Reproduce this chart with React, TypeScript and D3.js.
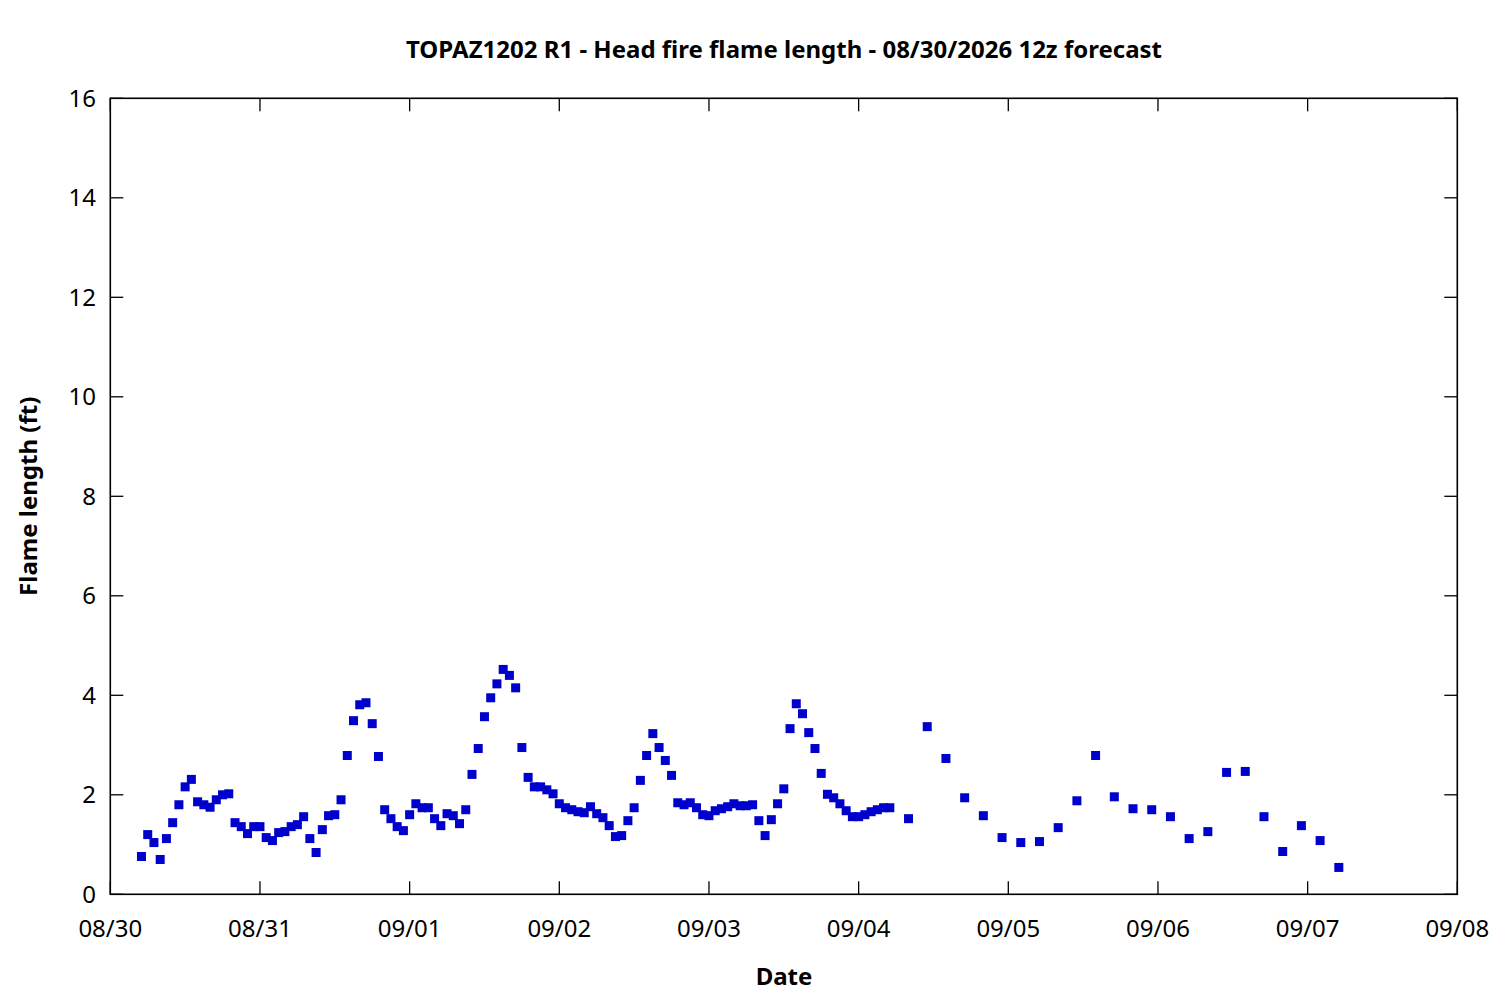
import * as d3 from 'd3'
import { useEffect, useRef } from 'react'

// hourly forecast values (ft), first at 08/30 05z
const hourlyStart = '2026-08-30T05:00:00Z'
const hourlyFlame = [
  0.76, 1.20, 1.04, 0.70, 1.12, 1.44, 1.80, 2.16, 2.31, 1.86,
  1.80, 1.75, 1.90, 2.00, 2.02, 1.44, 1.36, 1.22, 1.36, 1.36,
  1.14, 1.08, 1.24, 1.26, 1.36, 1.40, 1.56, 1.12, 0.84, 1.30,
  1.58, 1.60, 1.90, 2.79, 3.49, 3.81, 3.85, 3.43, 2.77, 1.70,
  1.52, 1.36, 1.28, 1.60, 1.82, 1.74, 1.74, 1.52, 1.38, 1.62,
  1.58, 1.42, 1.70, 2.41, 2.93, 3.57, 3.95, 4.23, 4.52, 4.40,
  4.15, 2.95, 2.35, 2.16, 2.16, 2.10, 2.02, 1.82, 1.74, 1.70,
  1.66, 1.64, 1.76, 1.62, 1.54, 1.38, 1.16, 1.18, 1.48, 1.74,
  2.29, 2.79, 3.23, 2.95, 2.69, 2.39, 1.84, 1.80, 1.84, 1.74,
  1.60, 1.58, 1.68, 1.72, 1.76, 1.82, 1.78, 1.78, 1.80, 1.48,
  1.18, 1.50, 1.82, 2.12, 3.33, 3.83, 3.63, 3.25, 2.93, 2.43,
  2.01, 1.94, 1.82, 1.68, 1.56, 1.56, 1.60, 1.66, 1.70, 1.74,
  1.74,
]

// 3-hourly values (ft), first at 09/04 08z
const threeHourlyStart = '2026-09-04T08:00:00Z'
const threeHourlyFlame = [
  1.52, 3.37, 2.73, 1.94, 1.58, 1.14, 1.04, 1.06, 1.34, 1.88,
  2.79, 1.96, 1.72, 1.70, 1.56, 1.12, 1.26, 2.45, 2.47, 1.56,
  0.86, 1.38, 1.08, 0.54,
]

const xDomain = ['2026-08-30T00:00:00Z', '2026-09-08T00:00:00Z']
const yTicks = [0, 2, 4, 6, 8, 10, 12, 14, 16]

const titleText = 'TOPAZ1202 R1 - Head fire flame length - 08/30/2026 12z forecast'
const xLabel = 'Date'
const yLabel = 'Flame length (ft)'

const W = 1500
const H = 1000
const left = 110.3
const right = 1457.3
const top = 98.3
const bottom = 894.3
const font = '"Noto Sans", "Open Sans", sans-serif'
const fontSize = 24

export default function App() {
  const svgRef = useRef(null) as any

  useEffect(() => {
    const svg = d3.select(svgRef.current)
    svg.selectAll('*').remove()

    const points: { t: Date; v: number }[] = []
    hourlyFlame.forEach((v, i) => {
      points.push({ t: d3.utcHour.offset(new Date(hourlyStart), i), v })
    })
    threeHourlyFlame.forEach((v, i) => {
      points.push({ t: d3.utcHour.offset(new Date(threeHourlyStart), i * 3), v })
    })

    const x = d3.scaleUtc()
      .domain(xDomain.map(d => new Date(d)))
      .range([left, right])
    const y = d3.scaleLinear()
      .domain([0, 16])
      .range([bottom, top])

    const days = d3.utcDay.range(x.domain()[0], d3.utcDay.offset(x.domain()[1], 1))
    const fmt = d3.utcFormat('%m/%d')
    const tickLen = 13

    svg.append('rect')
      .attr('x', 0).attr('y', 0).attr('width', W).attr('height', H)
      .attr('fill', '#fff')

    // ticks on all four sides, pointing inwards
    const g = svg.append('g').attr('stroke', '#000').attr('stroke-width', 1.3)
    days.forEach(d => {
      const px = x(d)
      g.append('line').attr('x1', px).attr('x2', px).attr('y1', bottom).attr('y2', bottom - tickLen)
      g.append('line').attr('x1', px).attr('x2', px).attr('y1', top).attr('y2', top + tickLen)
    })
    yTicks.forEach(v => {
      const py = y(v)
      g.append('line').attr('x1', left).attr('x2', left + tickLen).attr('y1', py).attr('y2', py)
      g.append('line').attr('x1', right).attr('x2', right - tickLen).attr('y1', py).attr('y2', py)
    })
    svg.append('rect')
      .attr('x', left).attr('y', top)
      .attr('width', right - left).attr('height', bottom - top)
      .attr('fill', 'none').attr('stroke', '#000').attr('stroke-width', 1.6)

    svg.append('g').selectAll('text')
      .data(days)
      .join('text')
      .attr('x', d => x(d))
      .attr('y', 937)
      .attr('text-anchor', 'middle')
      .text(d => fmt(d))

    svg.append('g').selectAll('text')
      .data(yTicks)
      .join('text')
      .attr('x', 96)
      .attr('y', d => y(d) + 8.5)
      .attr('text-anchor', 'end')
      .text(d => d)

    svg.selectAll('text')
      .attr('font-family', font)
      .attr('font-size', fontSize)
      .attr('fill', '#000')

    svg.append('g').selectAll('rect')
      .data(points)
      .join('rect')
      .attr('x', d => x(d.t) - 4.5)
      .attr('y', d => y(d.v) - 4.5)
      .attr('width', 9)
      .attr('height', 9)
      .attr('fill', '#0000cc')

    svg.append('text')
      .attr('x', 784).attr('y', 58)
      .attr('text-anchor', 'middle')
      .attr('font-family', font).attr('font-size', fontSize).attr('font-weight', 'bold')
      .text(titleText)

    svg.append('text')
      .attr('x', 784).attr('y', 985)
      .attr('text-anchor', 'middle')
      .attr('font-family', font).attr('font-size', fontSize).attr('font-weight', 'bold')
      .text(xLabel)

    svg.append('text')
      .attr('transform', `translate(37,${(top + bottom) / 2}) rotate(-90)`)
      .attr('text-anchor', 'middle')
      .attr('font-family', font).attr('font-size', fontSize).attr('font-weight', 'bold')
      .text(yLabel)
  }, [])

  return (
    <div style={{ position: 'absolute', left: 0, top: 0 }}>
      <svg ref={svgRef} width={W} height={H} />
    </div>
  )
}
